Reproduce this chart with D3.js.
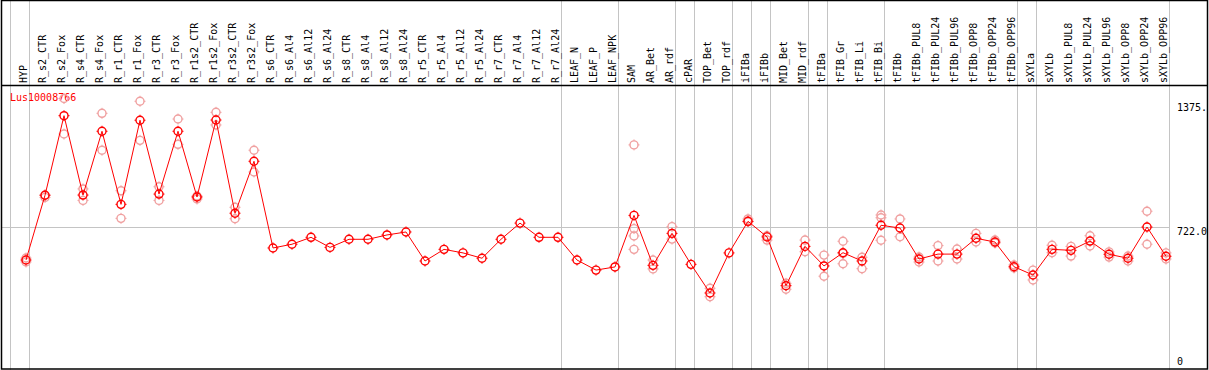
<!DOCTYPE html>
<html>
<head>
<meta charset="utf-8">
<script src="https://cdn.jsdelivr.net/npm/d3@7"></script>
<style>
  body { margin: 0; background: #fff; }
  text { font-family: "DejaVu Sans Mono", monospace; font-size: 10px; }
</style>
</head>
<body>
<div id="chart"></div>
<script>
// samples along the x axis
var samples = ["HYP","R_s2_CTR","R_s2_Fox","R_s4_CTR","R_s4_Fox","R_r1_CTR","R_r1_Fox","R_r3_CTR","R_r3_Fox",
  "R_r1s2_CTR","R_r1s2_Fox","R_r3s2_CTR","R_r3s2_Fox","R_s6_CTR","R_s6_Al4","R_s6_Al12","R_s6_Al24",
  "R_s8_CTR","R_s8_Al4","R_s8_Al12","R_s8_Al24","R_r5_CTR","R_r5_Al4","R_r5_Al12","R_r5_Al24",
  "R_r7_CTR","R_r7_Al4","R_r7_Al12","R_r7_Al24","LEAF_N","LEAF_P","LEAF_NPK","SAM","AR_Bet","AR_rdf",
  "cPAR","TOP_Bet","TOP_rdf","iFIBa","iFIBb","MID_Bet","MID_rdf","tFIBa","tFIB_Gr","tFIB_Li","tFIB_Bi",
  "tFIBb","tFIBb_PUL8","tFIBb_PUL24","tFIBb_PUL96","tFIBb_OPP8","tFIBb_OPP24","tFIBb_OPP96",
  "sXYLa","sXYLb","sXYLb_PUL8","sXYLb_PUL24","sXYLb_PUL96","sXYLb_OPP8","sXYLb_OPP24","sXYLb_OPP96"];

// mean expression per sample
var means = [557,885,1288,886,1209,839,1265,891,1209,876,1266,794,1057,618,637,672,621,662,662,684,699,
  552,611,593,566,662,744,672,672,557,506,522,783,530,692,535,390,593,753,674,427,626,527,594,552,733,
  719,562,587,587,667,648,523,481,611,606,653,586,566,724,576];

// replicate values per sample
var reps = [[567,547],[886,874],[1375,1195],[917,859],[1300,1113],[908,768],[1361,1163],[928,859],[1271,1143],
  [881,866],[1305,1241],[824,766],[1113,1003],[],[],[],[],[],[],[],[],[],[],[],[],[],[],[],[],[],[],[],
  [1140,716,679,611],[557,512],[726,663],[],[414,371],[],[765,751],[680,658],[439,409],[658,599],[582,475],
  [652,591,538],[571,513],[785,771,657],[765,675],[572,547],[630,552],[613,562],[692,648],[658,643],[532,517],
  [506,456],[632,594],[626,577],[680,628],[598,572],[577,552],[804,637],[593,562]];

// sample groups start here (grey separators)
var groupStarts = ["HYP","R_s2_CTR","LEAF_N","SAM","cPAR","TOP_Bet","iFIBa","iFIBb","MID_Bet","tFIBa",
  "tFIB_Gr","tFIBb","sXYLa","sXYLb"];

var yTicks = [1375, 722, 0];
var yTickLabels = ["1375.", "722.0", "0"];
var geneName = "Lus10008766";

var W = 1209, H = 370;
var headerY = 85;

var svg = d3.select("#chart").append("svg")
  .attr("width", W).attr("height", H);

var x = d3.scaleBand().domain(samples).range([11, 11 + 19 * samples.length]).padding(0);
var px = function(s) { return x(s) + 15; };
var y = d3.scaleLinear().domain([0, 1375]).range([370, 98.5]);

// grey separators
svg.append("g").selectAll("line")
  .data(groupStarts.concat(["__end"]))
  .enter().append("line")
    .attr("x1", function(d) { return d === "__end" ? x.range()[1] - 0.5 : x(d) - 0.5; })
    .attr("x2", function(d) { return d === "__end" ? x.range()[1] - 0.5 : x(d) - 0.5; })
    .attr("y1", 0).attr("y2", H)
    .style("stroke", "#c4c4c4");

// horizontal reference line
svg.append("line")
  .attr("x1", 1).attr("x2", x.range()[1])
  .attr("y1", Math.round(y(722)) + 0.5).attr("y2", Math.round(y(722)) + 0.5)
  .style("stroke", "#c4c4c4");

// sample labels in the header
svg.append("g").selectAll("text")
  .data(samples)
  .enter().append("text")
    .attr("transform", function(d) { return "translate(" + (px(d) + 1) + "," + (headerY - 2) + ") rotate(-90)"; })
    .attr("text-anchor", "start")
    .style("fill", "#000")
    .text(function(d) { return d; });

// y labels on the right
svg.append("g").selectAll("text")
  .data(yTicks)
  .enter().append("text")
    .attr("x", 1177)
    .attr("y", function(d, i) { return i === 0 ? y(d) + 12.5 : (i === 1 ? y(d) + 8 : y(d) - 5); })
    .style("fill", "#000")
    .text(function(d, i) { return yTickLabels[i]; });

svg.append("text")
  .attr("x", 10).attr("y", 101)
  .style("fill", "red")
  .text(geneName);

// marker: hollow circle with small pips
function marker(g, color) {
  g.append("circle").attr("r", 4).style("fill", "none").style("stroke", color).style("stroke-width", 1.4);
  g.append("path").attr("d", "M0,-5.5V-4M0,4V5.5M-5.5,0H-4M4,0H5.5").style("stroke", color).style("stroke-width", 1);
}

// replicates
var repData = [];
samples.forEach(function(s, i) { reps[i].forEach(function(v) { repData.push({s: s, v: v}); }); });
svg.append("g").selectAll("g")
  .data(repData)
  .enter().append("g")
    .attr("transform", function(d) { return "translate(" + px(d.s) + "," + y(d.v) + ")"; })
    .each(function() { marker(d3.select(this), "#f0a0a0"); });

// mean line
svg.append("path")
  .datum(samples.map(function(s, i) { return [px(s), y(means[i])]; }))
  .attr("d", d3.line())
  .style("fill", "none").style("stroke", "red").style("stroke-width", 1);

svg.append("g").selectAll("g")
  .data(samples)
  .enter().append("g")
    .attr("transform", function(d, i) { return "translate(" + px(d) + "," + y(means[i]) + ")"; })
    .each(function() { marker(d3.select(this), "red"); });

// frame and header separator
svg.append("rect").attr("x", 1.5).attr("y", 0.5).attr("width", 1206).attr("height", 368.5)
  .style("fill", "none").style("stroke", "#000").style("stroke-width", 1.5);
svg.append("line").attr("x1", 1).attr("x2", 1208).attr("y1", headerY + 0.5).attr("y2", headerY + 0.5)
  .style("stroke", "#000").style("stroke-width", 1.5);
</script>
</body>
</html>
